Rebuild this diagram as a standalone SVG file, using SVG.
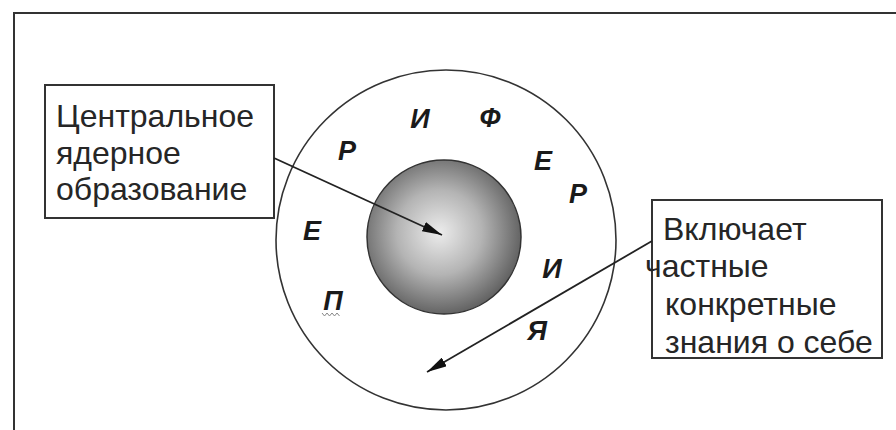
<svg xmlns="http://www.w3.org/2000/svg" width="896" height="430" viewBox="0 0 896 430">
<style>
.frame{fill:none;stroke:#333;stroke-width:2}
.box{fill:#fff;stroke:#333;stroke-width:2}
.lbl{font-family:"Liberation Sans",Arial,sans-serif;font-size:32px;fill:#262626}
.ch{font-family:"Liberation Sans",Arial,sans-serif;font-size:27px;font-style:italic;font-weight:bold;fill:#1a1a1a;text-anchor:middle}
.conn{stroke:#222;stroke-width:1.8;fill:none}
</style>
<defs>
<radialGradient id="sph" cx="0.47" cy="0.47" r="0.55">
<stop offset="0" stop-color="#ececec"/>
<stop offset="0.5" stop-color="#b4b4b4"/>
<stop offset="1" stop-color="#5e5e5e"/>
</radialGradient>
<marker id="ah" viewBox="0 0 20 10" refX="20" refY="5" markerWidth="20" markerHeight="10" markerUnits="userSpaceOnUse" orient="auto">
<path d="M0,0 L20,5 L0,10 Z" fill="#111"/>
</marker>
</defs>
<rect width="896" height="430" fill="#fff"/>
<path class="frame" d="M14,430 L14,13 L896,13"/>
<g id="periphery">
<circle cx="446" cy="240" r="170" fill="none" stroke="#333" stroke-width="1.6"/>
<text class="ch" x="420" y="128">И</text>
<text class="ch" x="490" y="127">Ф</text>
<text class="ch" x="347" y="160">Р</text>
<text class="ch" x="543" y="170">Е</text>
<text class="ch" x="578" y="203">Р</text>
<text class="ch" x="312" y="240">Е</text>
<text class="ch" x="552" y="278">И</text>
<text class="ch" x="333" y="310">П</text>
<path d="M322,313 l2.5,3 l2.5,-3 l2.5,3 l2.5,-3 l2.5,3 l2.5,-3 l2.5,3" fill="none" stroke="#888" stroke-width="1"/>
<text class="ch" x="537" y="340">Я</text>
</g>
<g id="core">
<circle cx="444" cy="237" r="77" fill="url(#sph)" stroke="#333" stroke-width="1.5"/>
</g>
<g id="box-core">
<rect class="box" x="45" y="85" width="229" height="133"/>
<text class="lbl" x="56" y="127">Центральное</text>
<text class="lbl" x="56" y="164">ядерное</text>
<text class="lbl" x="56" y="200">образование</text>
</g>
<g id="box-periph">
<rect class="box" x="652" y="200" width="230" height="158"/>
<text class="lbl" x="663" y="240">Включает</text>
<text class="lbl" x="645" y="277">частные</text>
<text class="lbl" x="665" y="315">конкретные</text>
<text class="lbl" x="665" y="353">знания о себе</text>
</g>
<g id="connectors">
<line class="conn" x1="274" y1="158" x2="442" y2="235" marker-end="url(#ah)"/>
<line class="conn" x1="652" y1="241" x2="427" y2="372" marker-end="url(#ah)"/>
</g>
</svg>
